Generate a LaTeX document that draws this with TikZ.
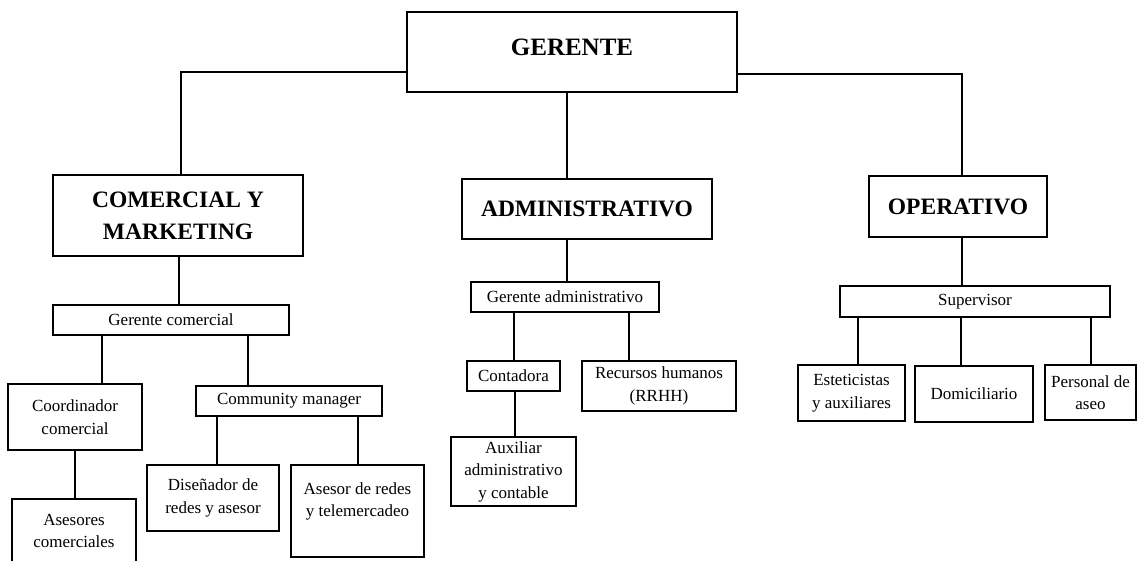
\documentclass[tikz,border=0pt]{standalone}
\usepackage{fontspec}
\setmainfont{Liberation Serif}
\usepackage{tikz}
\tikzstyle{jefe}=[rectangle,draw=black,line width=2.2pt,inner sep=0pt,font=\fontsize{25}{30}\selectfont\bfseries]
\tikzstyle{area}=[rectangle,draw=black,line width=2.2pt,inner sep=0pt,align=center,font=\fontsize{23.5}{32}\selectfont\bfseries]
\tikzstyle{cargo}=[rectangle,draw=black,line width=2.2pt,inner sep=0pt,align=center,font=\fontsize{17}{22.5}\selectfont]
\tikzstyle{link}=[draw=black,line width=2pt]

\begin{document}
\begin{tikzpicture}[x=1pt,y=-1pt]
    \useasboundingbox (0,0) rectangle (1137,560);
    \node[jefe,minimum width=330pt,text height=43pt,text depth=37pt] at (572,52) (ger) {GERENTE};
    \node[area,minimum width=250pt,minimum height=81pt] at (178,215.5) (com) {COMERCIAL Y\\MARKETING};
    \node[area,minimum width=250pt,minimum height=60pt] at (587,209) (adm) {ADMINISTRATIVO};
    \node[area,minimum width=178pt,minimum height=61pt] at (958,206.5) (ope) {OPERATIVO};
    \draw[link] (ger.west |- 0,72) -| (com.north -| 181,0);
    \draw[link] (ger.east |- 0,74) -| (ope.north -| 962,0);
    \draw[link] (ger.south -| 567,0) -- (adm.north -| 567,0);
    % comercial
    \node[cargo,minimum width=236pt,minimum height=30pt] at (171,320) (gco) {Gerente comercial};
    \node[cargo,minimum width=134pt,minimum height=66pt] at (75,417) (coo) {Coordinador\\comercial};
    \node[cargo,minimum width=186pt,minimum height=30pt] at (289,401) (cmm) {Community manager};
    \node[cargo,minimum width=124pt,minimum height=64pt] at (74,531) (ase) {Asesores\\comerciales};
    \node[cargo,minimum width=132pt,minimum height=66pt] at (213,498) (dis) {Diseñador de\\redes y asesor};
    \node[cargo,minimum width=133pt,minimum height=92pt] at (357.5,511) (tel) {Asesor de redes\\y telemercadeo\\\mbox{}};
    \draw[link] (com.south -| 179,0) -- (gco.north -| 179,0);
    \draw[link] (gco.south -| 102,0) -- (coo.north -| 102,0);
    \draw[link] (gco.south -| 248,0) -- (cmm.north -| 248,0);
    \draw[link] (coo.south -| 75,0) -- (ase.north -| 75,0);
    \draw[link] (cmm.south -| 217,0) -- (dis.north -| 217,0);
    \draw[link] (cmm.south -| 358,0) -- (tel.north -| 358,0);
    % administrativo
    \node[cargo,minimum width=188pt,minimum height=30pt] at (565,297) (gad) {Gerente administrativo};
    \node[cargo,minimum width=93pt,minimum height=30pt] at (513.5,376) (con) {Contadora};
    \node[cargo,minimum width=154pt,minimum height=50pt] at (659,386) (rrh) {Recursos humanos\\(RRHH)};
    \node[cargo,minimum width=125pt,minimum height=69pt] at (513.5,471.5) (aux) {Auxiliar\\administrativo\\y contable};
    \draw[link] (adm.south -| 567,0) -- (gad.north -| 567,0);
    \draw[link] (gad.south -| 514,0) -- (con.north -| 514,0);
    \draw[link] (gad.south -| 629,0) -- (rrh.north -| 629,0);
    \draw[link] (con.south -| 515,0) -- (aux.north -| 515,0);
    % operativo
    \node[cargo,minimum width=270pt,minimum height=31pt] at (975,301.5) (sup) {Supervisor};
    \node[cargo,minimum width=107pt,minimum height=56pt] at (851.5,393) (est) {Esteticistas\\y auxiliares};
    \node[cargo,minimum width=118pt,minimum height=56pt] at (974,394) (dom) {Domiciliario};
    \node[cargo,minimum width=91pt,minimum height=55pt] at (1090.5,392.5) (per) {Personal de\\aseo};
    \draw[link] (ope.south -| 962,0) -- (sup.north -| 962,0);
    \draw[link] (sup.south -| 858,0) -- (est.north -| 858,0);
    \draw[link] (sup.south -| 961,0) -- (dom.north -| 961,0);
    \draw[link] (sup.south -| 1091,0) -- (per.north -| 1091,0);
\end{tikzpicture}
\end{document}
